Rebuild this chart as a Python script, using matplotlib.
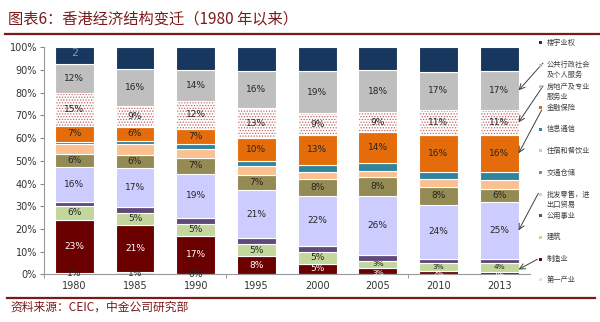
import numpy as np
import matplotlib
matplotlib.use('Agg')
import matplotlib.pyplot as plt
from matplotlib.patches import Rectangle
from matplotlib.lines import Line2D

plt.rcParams['font.family'] = ['Noto Sans CJK SC', 'DejaVu Sans']
plt.rcParams['hatch.linewidth'] = 0.6

# 数据 (占GDP比重, %)，由下到上
years = ['1980', '1985', '1990', '1995', '2000', '2005', '2010', '2013']
primary = [0.8, 0.9, 0.2, 0.2, 0.1, 0.1, 0.1, 0.1]
manufacturing = [23.2, 21.0, 16.9, 7.8, 4.6, 2.9, 1.5, 1.1]
construction = [6.3, 5.0, 5.1, 5.3, 5.0, 2.7, 3.2, 3.8]
utilities = [1.4, 2.6, 2.7, 2.5, 2.9, 2.9, 2.0, 1.7]
trade = [15.7, 17.4, 19.3, 21.3, 21.9, 25.9, 23.8, 25.3]
transport = [5.5, 5.6, 7.1, 6.8, 7.6, 8.4, 8.0, 5.6]
hotels = [4.4, 4.8, 4.1, 3.9, 3.1, 2.7, 3.5, 4.1]
info = [1.2, 1.4, 2.1, 2.1, 3.0, 3.3, 2.9, 3.5]
finance = [7.0, 6.3, 6.6, 10.3, 13.3, 13.6, 16.3, 16.2]
realestate = [14.6, 9.1, 12.4, 12.9, 9.4, 9.1, 11.1, 11.1]
public = [12.4, 16.2, 13.7, 16.4, 18.7, 18.2, 16.8, 17.1]
ownership = [7.5, 9.7, 9.8, 10.5, 10.4, 10.2, 10.8, 10.4]

series = [
    ('第一产业', primary, '#F2DCDB', '#262626', [0, 1, 2]),
    ('制造业', manufacturing, '#6B0000', 'white', 'all'),
    ('建筑', construction, '#C3D69B', '#262626', 'all'),
    ('公用事业', utilities, '#604A7B', None, None),
    ('批发零售、进出口贸易', trade, '#CCCCFF', '#262626', 'all'),
    ('交通仓储', transport, '#948A54', '#262626', 'all'),
    ('住宿和餐饮业', hotels, '#FAC090', None, None),
    ('信息通信', info, '#31849B', None, None),
    ('金融保险', finance, '#E46C0A', '#262626', 'all'),
    ('房地产及专业服务业', realestate, 'white', '#262626', 'all'),
    ('公共行政社会及个人服务', public, '#BFBFBF', '#262626', 'all'),
    ('楼宇业权', ownership, '#17375E', None, None),
]

fig = plt.figure(figsize=(6, 3.22), dpi=100)
ax = fig.add_axes([0.0733, 0.148, 0.8092, 0.705])

x = np.arange(len(years))
w = 0.64
bottom = np.zeros(len(years))
mids = {}
for name, vals, col, tcol, show in series:
    vals = np.array(vals)
    if name == '房地产及专业服务业':
        ax.bar(x, vals, w, bottom=bottom, color='white', edgecolor='#C06464',
               hatch='......', linewidth=0)
        ax.bar(x, vals, w, bottom=bottom, color='none', edgecolor='white', linewidth=0.8)
    else:
        ax.bar(x, vals, w, bottom=bottom, color=col, edgecolor='white', linewidth=0.8)
    mids[name] = bottom + vals / 2
    if show is not None:
        idx = range(len(years)) if show == 'all' else show
        for i in idx:
            # 很窄的色块上标签缩小并略微下移
            small = name != '第一产业' and vals[i] < 4
            ypos = bottom[i] + vals[i] / 2
            if small and name == '制造业':
                ypos = bottom[i] + vals[i] / 2 - 0.8
            ax.text(x[i], ypos, f'{vals[i]:.0f}%', ha='center', va='center',
                    fontsize=5.3 if small else 6.5, color=tcol, family='DejaVu Sans')
    bottom += vals

ax.text(x[0], 97.5, '2', ha='center', va='center', fontsize=8, color='#7F93B5', family='DejaVu Sans')

ax.set_xlim(-0.5, len(years) - 0.5)
ax.set_ylim(0, 100)
ax.set_yticks(np.arange(0, 101, 10))
ax.set_yticklabels([f'{v}%' for v in range(0, 101, 10)], fontsize=7, color='#333333', family='DejaVu Sans')
ax.set_xticks(x)
ax.set_xticklabels(years, fontsize=7, color='#333333', family='DejaVu Sans')
ax.tick_params(axis='x', length=0, pad=5)
ax.set_xticks([-0.5, 2.5, 5.5], minor=True)
ax.tick_params(axis='x', which='minor', length=3, color='#888888')
ax.tick_params(axis='y', length=3, color='#888888', pad=2)
for s in ['top', 'right']:
    ax.spines[s].set_visible(False)
for s in ['left', 'bottom']:
    ax.spines[s].set_color('#999999')
    ax.spines[s].set_linewidth(0.8)

# 标题和来源
red = '#7B1A1A'
fig.text(8 / 600, 1 - 19 / 322, '图表6：香港经济结构变迁（1980 年以来）', fontsize=11, color=red,
         style='italic', va='center', ha='left')
fig.add_artist(Line2D([5 / 600, 1], [1 - 33.5 / 322] * 2, color=red, lw=1.6))
fig.add_artist(Line2D([7 / 600, 595 / 600], [1 - 297.5 / 322] * 2, color=red, lw=1.6))
fig.text(10 / 600, 1 - 307 / 322, '资料来源：CEIC，中金公司研究部', fontsize=8.5, color=red,
         style='italic', va='center', ha='left')

# 图例
legend_items = [
    ('楼宇业权', ['楼宇业权'], 42.7),
    ('公共行政社会及个人服务', ['公共行政社会', '及个人服务'], 65.0),
    ('房地产及专业服务业', ['房地产及专业', '服务业'], 86.5),
    ('金融保险', ['金融保险'], 107.8),
    ('信息通信', ['信息通信'], 129.0),
    ('住宿和餐饮业', ['住宿和餐饮业'], 150.7),
    ('交通仓储', ['交通仓储'], 172.7),
    ('批发零售、进出口贸易', ['批发零售，进', '出口贸易'], 194.7),
    ('公用事业', ['公用事业'], 215.5),
    ('建筑', ['建筑'], 237.0),
    ('制造业', ['制造业'], 259.0),
    ('第一产业', ['第一产业'], 279.7),
]
colors = {s[0]: s[2] for s in series}
colors['房地产及专业服务业'] = '#E6B9B8'
for name, lines, ypx in legend_items:
    fig.add_artist(Rectangle((539.3 / 600, 1 - (ypx + 1.5) / 322), 3 / 600, 3 / 322,
                             transform=fig.transFigure, color=colors[name], lw=0))
    for k, line in enumerate(lines):
        fig.text(546.5 / 600, 1 - (ypx + k * 10.0) / 322, line, fontsize=5.2,
                 color='#404040', va='center', ha='left')

# 指向2013年柱子的箭头
arrows = [
    ('公共行政社会及个人服务', 543, 63),
    ('房地产及专业服务业', 543, 86),
    ('金融保险', 541.7, 110),
    ('批发零售、进出口贸易', 538.3, 193.3),
    ('制造业', 537.3, 259.3),
]
last = len(years) - 1
for name, tx, ty in arrows:
    ax.annotate('', xy=(x[last] + w / 2, mids[name][last] + (1.5 if name == '制造业' else 0)),
                xycoords='data', xytext=(tx / 600, 1 - ty / 322), textcoords='figure fraction',
                arrowprops=dict(arrowstyle='->', color='#404040', lw=0.7, shrinkA=0, shrinkB=0),
                annotation_clip=False)

fig.savefig('out.png', dpi=100)
